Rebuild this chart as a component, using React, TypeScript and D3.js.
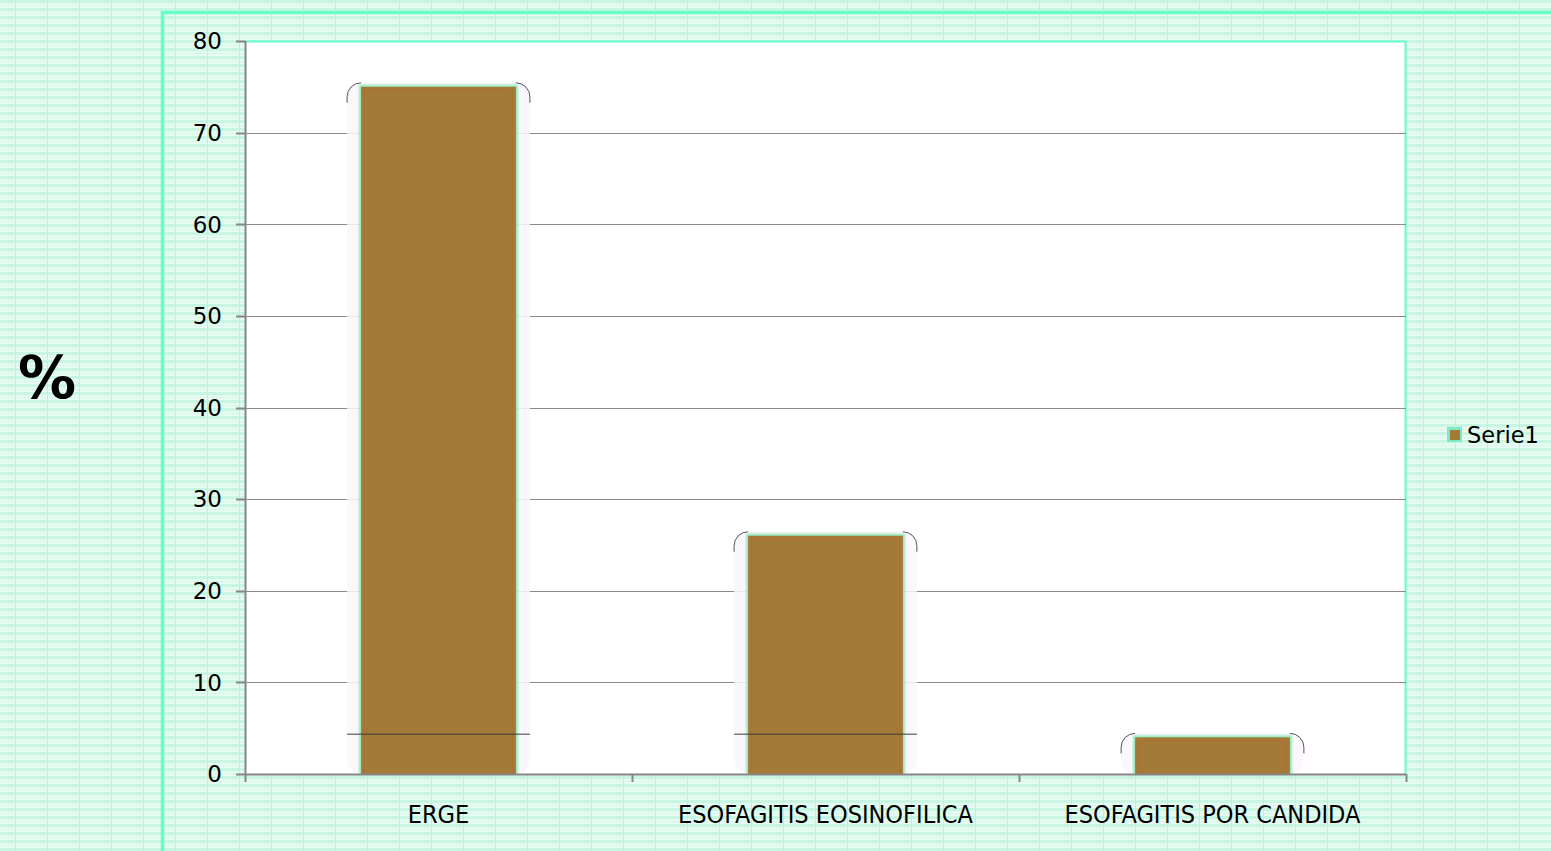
import React, { useEffect, useRef } from "react";
import * as d3 from "d3";

const categories = ["ERGE", "ESOFAGITIS EOSINOFILICA", "ESOFAGITIS POR CANDIDA"];
const values = [75, 26, 4];
const yTicks = [0, 10, 20, 30, 40, 50, 60, 70, 80];
const seriesName = "Serie1";
const yAxisTitle = "%";

const W = 1551;
const H = 851;
const plot = { left: 245, right: 1406, top: 41, bottom: 774 };

export default function App() {
  const ref = useRef<SVGSVGElement>(null);

  useEffect(() => {
    const svg = d3.select(ref.current);
    svg.selectAll("*").remove();

    const defs = svg.append("defs");
    const pat = defs
      .append("pattern")
      .attr("id", "bg")
      .attr("patternUnits", "userSpaceOnUse")
      .attr("width", 32)
      .attr("height", 8);
    pat.append("rect").attr("width", 32).attr("height", 8).attr("fill", "#e6fbf2");
    pat.append("rect").attr("y", 0).attr("width", 32).attr("height", 3).attr("fill", "#c9f5e3");
    pat.append("rect").attr("y", 5).attr("width", 32).attr("height", 1).attr("fill", "#d6f7ea");
    pat.append("rect").attr("x", 15).attr("width", 1).attr("height", 8).attr("fill", "#d3e6de");

    const glow = defs.append("filter").attr("id", "glow").attr("x", "-20%").attr("y", "-20%").attr("width", "140%").attr("height", "140%");
    glow.append("feGaussianBlur").attr("stdDeviation", 1.2);

    svg.append("rect").attr("width", W).attr("height", H).attr("fill", "url(#bg)");

    // outer chart frame
    svg
      .append("path")
      .attr("d", `M162.5,${H + 5} V12.5 H${W + 5}`)
      .attr("fill", "none")
      .attr("stroke", "#66ffcc")
      .attr("stroke-width", 3.5);

    const x = d3
      .scaleBand<string>()
      .domain(categories)
      .range([plot.left, plot.right])
      .paddingInner(0.6)
      .paddingOuter(0.3);
    const xc = d3.scaleBand<string>().domain(categories).range([plot.left, plot.right]);
    const y = d3.scaleLinear().domain([0, 80]).range([plot.bottom, plot.top]);

    // plot area
    svg
      .append("rect")
      .attr("x", plot.left)
      .attr("y", plot.top)
      .attr("width", plot.right - plot.left)
      .attr("height", plot.bottom - plot.top)
      .attr("fill", "#ffffff");
    svg
      .append("path")
      .attr("d", `M${plot.left},${plot.top + 0.5} H${plot.right - 0.5} V${plot.bottom}`)
      .attr("fill", "none")
      .attr("stroke", "#66ffcc")
      .attr("stroke-width", 2);

    // gridlines
    svg
      .append("g")
      .selectAll("line")
      .data(yTicks.filter((t) => t > 0 && t < 80))
      .join("line")
      .attr("x1", plot.left)
      .attr("x2", plot.right)
      .attr("y1", (d) => Math.round(y(d)) + 0.5)
      .attr("y2", (d) => Math.round(y(d)) + 0.5)
      .attr("stroke", "#8c8c8c")
      .attr("stroke-width", 1);

    // bars with halo frames
    const barG = svg.append("g");
    categories.forEach((c, i) => {
      const bx = x(c)!;
      const bw = x.bandwidth();
      const top = y(values[i]);
      const fx = bx - 14;
      const fw = bw + 28;
      const ftop = top - 4;
      const r = 14;
      barG
        .append("rect")
        .attr("x", fx)
        .attr("y", ftop)
        .attr("width", fw)
        .attr("height", plot.bottom - ftop)
        .attr("rx", r)
        .attr("fill", "#fbf6fb")
        .attr("opacity", 0.85);
      // dark arcs at top corners
      barG
        .append("path")
        .attr(
          "d",
          `M${fx},${ftop + r + 6} V${ftop + r} A${r},${r} 0 0 1 ${fx + r},${ftop} M${fx + fw - r},${ftop} A${r},${r} 0 0 1 ${fx + fw},${ftop + r} V${ftop + r + 6}`
        )
        .attr("fill", "none")
        .attr("stroke", "#555")
        .attr("stroke-width", 1);
      barG
        .append("rect")
        .attr("x", bx - 2)
        .attr("y", top - 2)
        .attr("width", bw + 4)
        .attr("height", plot.bottom - top + 2)
        .attr("fill", "#8fe8b8")
        .attr("filter", "url(#glow)");
      barG
        .append("rect")
        .attr("x", bx)
        .attr("y", top)
        .attr("width", bw)
        .attr("height", plot.bottom - top)
        .attr("fill", "#a47a38");
      barG
        .append("rect")
        .attr("x", bx + 3)
        .attr("y", top + 3)
        .attr("width", bw - 6)
        .attr("height", plot.bottom - top - 3)
        .attr("fill", "none")
        .attr("stroke", "#b46c34")
        .attr("stroke-width", 2)
        .attr("opacity", 0.5);
      if (values[i] > 10) {
        barG
          .append("line")
          .attr("x1", fx)
          .attr("x2", fx + fw)
          .attr("y1", y(4.4) + 0.5)
          .attr("y2", y(4.4) + 0.5)
          .attr("stroke", "#3a3a3a")
          .attr("stroke-width", 1);
      }
    });

    // y axis
    const yAxis = svg.append("g");
    yAxis
      .append("line")
      .attr("x1", plot.left + 0.5)
      .attr("x2", plot.left + 0.5)
      .attr("y1", plot.top)
      .attr("y2", plot.bottom)
      .attr("stroke", "#868686")
      .attr("stroke-width", 2);
    yAxis
      .selectAll("line.tick")
      .data(yTicks)
      .join("line")
      .attr("class", "tick")
      .attr("x1", plot.left - 9)
      .attr("x2", plot.left)
      .attr("y1", (d) => Math.round(y(d)) + 0.5)
      .attr("y2", (d) => Math.round(y(d)) + 0.5)
      .attr("stroke", "#868686")
      .attr("stroke-width", 2);
    yAxis
      .selectAll("text")
      .data(yTicks)
      .join("text")
      .attr("x", 222)
      .attr("y", (d) => y(d))
      .attr("dy", "0.36em")
      .attr("text-anchor", "end")
      .attr("font-family", "DejaVu Sans, Verdana, sans-serif")
      .attr("font-size", 23)
      .attr("fill", "#000")
      .text((d) => d);

    // x axis
    const xAxis = svg.append("g");
    xAxis
      .append("line")
      .attr("x1", plot.left)
      .attr("x2", plot.right)
      .attr("y1", plot.bottom + 0.5)
      .attr("y2", plot.bottom + 0.5)
      .attr("stroke", "#868686")
      .attr("stroke-width", 2);
    const bounds = [plot.left, ...categories.map((c) => xc(c)! + xc.bandwidth())];
    xAxis
      .selectAll("line.tick")
      .data(bounds)
      .join("line")
      .attr("class", "tick")
      .attr("x1", (d) => d + 0.5)
      .attr("x2", (d) => d + 0.5)
      .attr("y1", plot.bottom)
      .attr("y2", plot.bottom + 8)
      .attr("stroke", "#868686")
      .attr("stroke-width", 2);
    xAxis
      .selectAll("text")
      .data(categories)
      .join("text")
      .attr("x", (d) => xc(d)! + xc.bandwidth() / 2)
      .attr("y", 823)
      .attr("text-anchor", "middle")
      .attr("font-family", "DejaVu Sans Condensed, DejaVu Sans, sans-serif")
      .attr("font-stretch", "condensed")
      .attr("font-size", 25)
      .attr("fill", "#000")
      .text((d) => d);

    // y title
    svg
      .append("text")
      .attr("x", 47)
      .attr("y", 398)
      .attr("text-anchor", "middle")
      .attr("font-family", "DejaVu Sans, Verdana, sans-serif")
      .attr("font-weight", "bold")
      .attr("font-size", 58)
      .attr("fill", "#000")
      .text(yAxisTitle);

    // legend
    const lg = svg.append("g");
    lg.append("rect")
      .attr("x", 1447)
      .attr("y", 427)
      .attr("width", 15)
      .attr("height", 15)
      .attr("fill", "#7fe8c4");
    lg.append("rect")
      .attr("x", 1450)
      .attr("y", 430)
      .attr("width", 10)
      .attr("height", 10)
      .attr("fill", "#a47a38");
    lg.append("text")
      .attr("x", 1467)
      .attr("y", 435)
      .attr("dy", "0.36em")
      .attr("font-family", "DejaVu Sans, Verdana, sans-serif")
      .attr("font-size", 22.5)
      .attr("fill", "#000")
      .text(seriesName);
  }, []);

  return (
    <svg
      ref={ref}
      width={W}
      height={H}
      style={{ position: "absolute", left: 0, top: 0, display: "block" }}
    />
  );
}
